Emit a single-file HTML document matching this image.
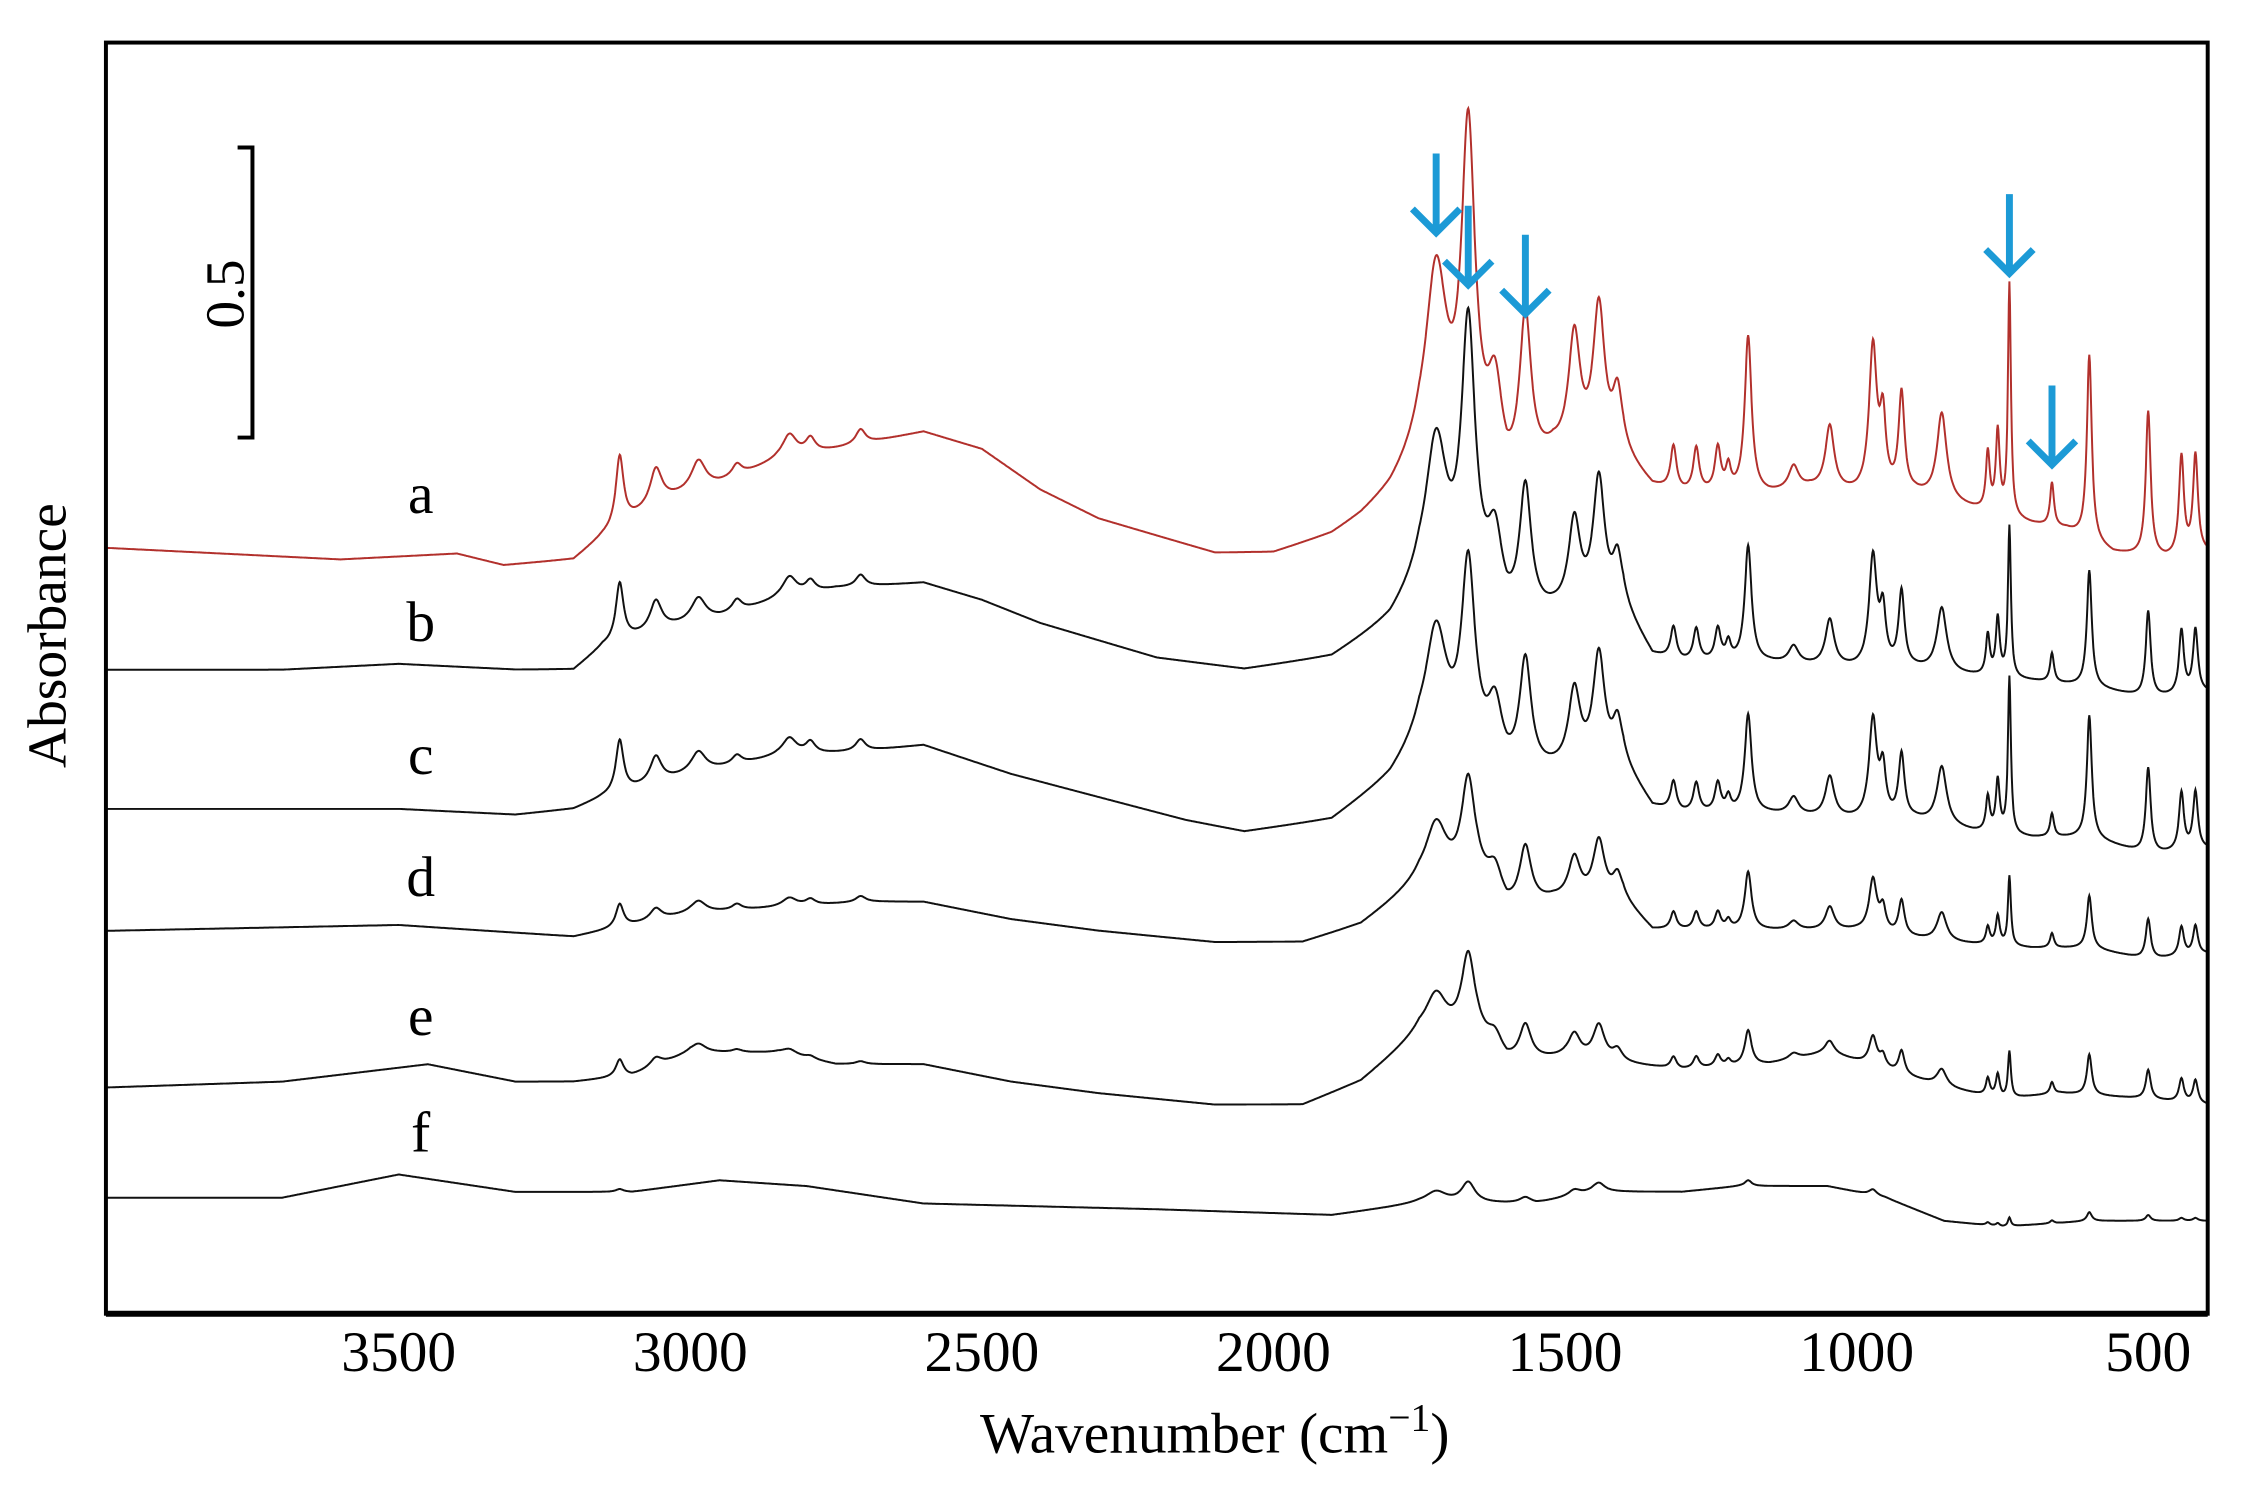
<!DOCTYPE html>
<html><head><meta charset="utf-8"><style>
html,body{margin:0;padding:0;background:#fff}
svg{display:block}
text{font-family:"Liberation Serif",serif;fill:#000}
</style></head><body>
<svg id="chart" width="2250" height="1498" viewBox="0 0 2250 1498" xmlns="http://www.w3.org/2000/svg">
<rect x="0" y="0" width="2250" height="1498" fill="#fff"/>
<g transform="scale(0.99)">
<g id="series"></g>
<g id="arrows"></g>
<rect x="107" y="43" width="2123" height="1284" fill="none" stroke="#000" stroke-width="4"/>
<line x1="107" y1="1327" x2="2230" y2="1327" stroke="#000" stroke-width="6"/>
<g id="xticks"></g>
<text x="1227" y="1467" font-size="58" text-anchor="middle">Wavenumber (cm<tspan font-size="40" dy="-22">−1</tspan><tspan dy="22">)</tspan></text>
<text transform="translate(66,642) rotate(-90)" font-size="56" text-anchor="middle">Absorbance</text>
<g>
<path d="M240,149 L255,149 L255,442 L240,442" fill="none" stroke="#000" stroke-width="4"/>
<text transform="translate(246,297) rotate(-90)" font-size="56" text-anchor="middle">0.5</text>
</g>
<g id="labels"></g>
</g>
</svg>
<script>
const xTicks = [3500, 3000, 2500, 2000, 1500, 1000, 500];
const seriesNames = ['a','b','c','d','e','f'];
const peakCenters = [3121,3059,2986,2920,2830,2794,2708,1721,1666,1620,1568,1484,1442,1410,1314,1275,1238,1220,1186,1108,1046,972,955,923,854,775,758,738,665,601,500,443,419];
const peakWidths = [8,12,15,10,15,10,10,22,14,15,12,12,12,10,6,6,6,5,7,10,9,8,6,6,10,4,4,3,4,5,5,5,5];
const heightsA = [0.12,0.06,0.05,0.02,0.04,0.025,0.025,0.32,0.56,0.15,0.27,0.20,0.25,0.10,0.075,0.075,0.075,0.04,0.27,0.04,0.11,0.25,0.12,0.17,0.15,0.10,0.14,0.40,0.075,0.32,0.25,0.17,0.17];
const heightsB = [0.10,0.05,0.04,0.02,0.035,0.02,0.02,0.25,0.45,0.12,0.22,0.15,0.22,0.08,0.055,0.055,0.055,0.03,0.20,0.03,0.08,0.19,0.09,0.13,0.11,0.07,0.10,0.26,0.05,0.20,0.15,0.11,0.11];
const heightsC = [0.09,0.045,0.035,0.015,0.03,0.02,0.02,0.20,0.32,0.10,0.19,0.13,0.19,0.07,0.05,0.05,0.05,0.025,0.17,0.03,0.07,0.17,0.08,0.11,0.10,0.06,0.09,0.27,0.04,0.21,0.15,0.10,0.10];
const heightsD = [0.04,0.02,0.02,0.01,0.015,0.01,0.01,0.10,0.17,0.05,0.10,0.07,0.10,0.04,0.03,0.03,0.03,0.015,0.10,0.015,0.04,0.09,0.04,0.06,0.05,0.03,0.05,0.12,0.025,0.09,0.07,0.05,0.05];
const heightsE = [0.03,0.015,0.015,0.005,0.01,0.005,0.005,0.07,0.14,0.03,0.06,0.04,0.06,0.02,0.02,0.02,0.02,0.01,0.06,0.01,0.02,0.05,0.02,0.04,0.03,0.03,0.04,0.08,0.02,0.07,0.05,0.04,0.04];
const heightsF = [0.005,0,0,0,0,0,0,0.02,0.035,0,0.01,0.01,0.015,0,0,0,0,0,0.01,0,0,0.01,0,0,0,0.005,0.005,0.015,0.005,0.015,0.01,0.005,0.005];
const baseWnA = [4000,3800,3600,3400,3320,3200,3150,3050,2950,2850,2750,2650,2600,2500,2400,2300,2200,2100,2000,1900,1850,1800,1750,1650,1600,1520,1400,1350,1300,1150,1080,1000,900,820,700,640,560,470,400];
const baseA = [1.32,1.31,1.30,1.31,1.29,1.30,1.34,1.40,1.43,1.47,1.49,1.51,1.52,1.49,1.42,1.37,1.34,1.31,1.31,1.34,1.37,1.41,1.47,1.45,1.40,1.47,1.47,1.42,1.41,1.41,1.42,1.41,1.41,1.39,1.36,1.35,1.31,1.30,1.31];
const baseWnB = [4000,3700,3500,3300,3200,3150,3050,2950,2850,2750,2600,2500,2400,2300,2200,2050,1900,1800,1750,1650,1600,1520,1400,1350,1300,1150,1000,900,820,700,600,500,400];
const baseB = [1.11,1.11,1.12,1.11,1.11,1.15,1.18,1.20,1.23,1.25,1.26,1.23,1.19,1.16,1.13,1.11,1.13,1.19,1.25,1.23,1.18,1.20,1.21,1.13,1.12,1.12,1.11,1.11,1.10,1.09,1.08,1.06,1.07];
const baseWnC = [4000,3500,3300,3200,3150,3000,2850,2700,2600,2450,2300,2150,2050,1900,1800,1750,1650,1600,1520,1400,1350,1300,1150,1000,900,800,700,600,500,400];
const baseC = [0.87,0.87,0.86,0.87,0.89,0.93,0.96,0.97,0.98,0.93,0.89,0.85,0.83,0.85,0.92,0.98,0.95,0.92,0.93,0.94,0.87,0.86,0.86,0.85,0.85,0.83,0.82,0.82,0.79,0.80];
const baseWnD = [4000,3500,3200,3100,3000,2850,2700,2600,2450,2300,2100,1950,1850,1750,1650,1600,1520,1400,1350,1200,1000,850,700,600,500,400];
const baseD = [0.66,0.67,0.65,0.67,0.69,0.70,0.71,0.71,0.68,0.66,0.64,0.64,0.67,0.74,0.74,0.69,0.71,0.71,0.66,0.66,0.66,0.64,0.63,0.63,0.61,0.62];
const baseWnE = [4000,3700,3450,3300,3200,3100,3000,2850,2750,2600,2450,2300,2100,1950,1850,1750,1650,1600,1500,1400,1300,1150,1050,950,850,750,650,500,400];
const baseE = [0.39,0.40,0.43,0.40,0.40,0.41,0.45,0.45,0.43,0.43,0.40,0.38,0.36,0.36,0.40,0.48,0.47,0.43,0.44,0.43,0.42,0.43,0.45,0.42,0.39,0.37,0.38,0.37,0.36];
const baseWnF = [4000,3700,3500,3300,3100,2950,2800,2600,2200,1900,1750,1650,1550,1450,1300,1200,1050,950,850,750,600,400];
const baseF = [0.20,0.20,0.24,0.21,0.21,0.23,0.22,0.19,0.18,0.17,0.19,0.19,0.19,0.21,0.21,0.22,0.22,0.20,0.16,0.15,0.16,0.16];
const arrowWn = [1721, 1666, 1568, 738, 665];
const arrowAbs = [1.86, 1.77, 1.72, 1.79, 1.46];
const labelAbs = [1.38, 1.16, 0.93, 0.72, 0.48, 0.28];

const X0=107, X1=2230, W0=4002, W1=398;
const Y0=1327, YS=586;
function xScale(w){ return X0 + (W0-w)/(W0-W1)*(X1-X0); }
function yScale(a){ return Y0 - a*YS; }
function interp(ws, vs, w){
  for(let i=0;i<ws.length-1;i++){
    if(w<=ws[i] && w>=ws[i+1]){ const t=(ws[i]-w)/(ws[i]-ws[i+1]); return vs[i]+(vs[i+1]-vs[i])*t; }
  }
  return w>ws[0]?vs[0]:vs[vs.length-1];
}
const NS='http://www.w3.org/2000/svg';
const seriesDefs = [
  {bw:baseWnA,b:baseA,h:heightsA,color:'#b2302c'},
  {bw:baseWnB,b:baseB,h:heightsB,color:'#111'},
  {bw:baseWnC,b:baseC,h:heightsC,color:'#111'},
  {bw:baseWnD,b:baseD,h:heightsD,color:'#111'},
  {bw:baseWnE,b:baseE,h:heightsE,color:'#111'},
  {bw:baseWnF,b:baseF,h:heightsF,color:'#111'}
];
const sg=document.getElementById('series');
seriesDefs.forEach((s,si)=>{
  let d='';
  for(let w=W0; w>=W1; w-=1){
    let v=interp(s.bw,s.b,w);
    for(let k=0;k<peakCenters.length;k++){ const u=(w-peakCenters[k])/peakWidths[k]; v+=s.h[k]/(1+u*u); }
    d+=(d?'L':'M')+xScale(w).toFixed(1)+','+yScale(v).toFixed(1);
  }
  const p=document.createElementNS(NS,'path');
  p.setAttribute('d',d); p.setAttribute('fill','none'); p.setAttribute('stroke',s.color); p.setAttribute('stroke-width','2');
  
  
  sg.appendChild(p);
});
const tg=document.getElementById('xticks');
xTicks.forEach(t=>{
  const x=xScale(t);
  const tx=document.createElementNS(NS,'text');
  tx.setAttribute('x',x); tx.setAttribute('y',1385); tx.setAttribute('font-size','58'); tx.setAttribute('text-anchor','middle');
  tx.textContent=t;
  
  
  tg.appendChild(tx);
});
const lg=document.getElementById('labels');
seriesNames.forEach((n,i)=>{
  const tx=document.createElementNS(NS,'text');
  tx.setAttribute('x',425); tx.setAttribute('y',yScale(labelAbs[i])); tx.setAttribute('font-size','58'); tx.setAttribute('text-anchor','middle');
  tx.textContent=n;
  
  
  lg.appendChild(tx);
});
const ag=document.getElementById('arrows');
arrowWn.forEach((w,i)=>{
  const x=xScale(w), y=yScale(arrowAbs[i]);
  const p=document.createElementNS(NS,'path');
  p.setAttribute('d',`M${x},${y-82} L${x},${y-2} M${x-24},${y-26} L${x},${y-2} L${x+24},${y-26}`);
  p.setAttribute('fill','none'); p.setAttribute('stroke','#1c9ad6'); p.setAttribute('stroke-width','7');
  
  
  ag.appendChild(p);
});
</script>
</body></html>
